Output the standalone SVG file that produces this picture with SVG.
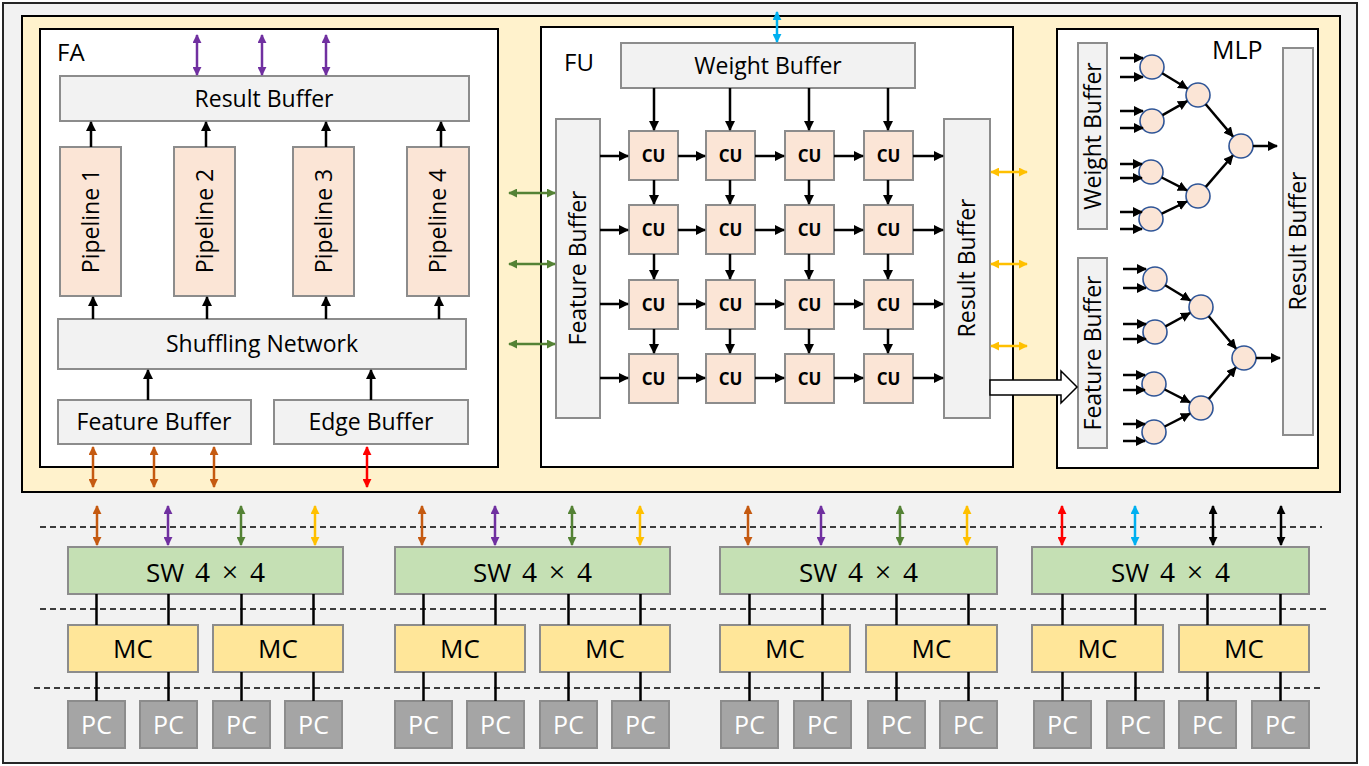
<svg xmlns="http://www.w3.org/2000/svg" width="1369" height="766" viewBox="0 0 1369 766">
<defs>
<style>
.t{font-family:"Open Sans","Liberation Sans",sans-serif;font-size:23px;fill:#000;text-anchor:middle}
.lbl{font-family:"Open Sans","Liberation Sans",sans-serif;font-size:24px;fill:#000}
.buf{fill:#f2f2f2;stroke:#8c8c8c;stroke-width:2}
.pk{fill:#fbe5d6;stroke:#8c8c8c;stroke-width:2}
.cu{font-family:"Open Sans","Liberation Sans",sans-serif;font-size:17px;font-weight:bold;text-anchor:middle}
.sw{fill:#c5e0b4;stroke:#8c8c8c;stroke-width:2}
.swt{font-family:"Open Sans","Liberation Sans",sans-serif;font-size:26px;text-anchor:middle;word-spacing:4px}
.swm{font-family:"Liberation Serif",serif;font-size:30px}
.mc{fill:#ffe699;stroke:#8c8c8c;stroke-width:2}
.mct{font-family:"Open Sans","Liberation Sans",sans-serif;font-size:26px;fill:#000;text-anchor:middle}
.pc{fill:#a5a5a5;stroke:#8c8c8c;stroke-width:2}
.pct{font-family:"Open Sans","Liberation Sans",sans-serif;font-size:25px;fill:#fff;text-anchor:middle}
.a{stroke:#000;stroke-width:2.5;fill:none;marker-end:url(#ak)}
.ln{stroke:#000;stroke-width:2.5}
.dash{stroke:#000;stroke-width:1.6;stroke-dasharray:6 4}
.neu{fill:#fbe5d6;stroke:#2f5597;stroke-width:1.6}
.bo{stroke:#c55a11;stroke-width:2.5;marker-start:url(#mo);marker-end:url(#mo)}
.bp{stroke:#7030a0;stroke-width:2.5;marker-start:url(#mp);marker-end:url(#mp)}
.bg{stroke:#548235;stroke-width:2.5;marker-start:url(#mg);marker-end:url(#mg)}
.by{stroke:#ffc000;stroke-width:2.5;marker-start:url(#my);marker-end:url(#my)}
.br{stroke:#ff0000;stroke-width:2.5;marker-start:url(#mr);marker-end:url(#mr)}
.bc{stroke:#00b0f0;stroke-width:2.5;marker-start:url(#mc);marker-end:url(#mc)}
.bk{stroke:#000;stroke-width:2.5;marker-start:url(#mk);marker-end:url(#mk)}
</style>
<marker id="ak" viewBox="0 0 10 10" refX="9" refY="5" markerWidth="10" markerHeight="10" markerUnits="userSpaceOnUse" orient="auto"><path d="M0,0L10,5L0,10z" fill="#000"/></marker>
<marker id="mo" viewBox="0 0 10 10" refX="9" refY="5" markerWidth="9" markerHeight="9" markerUnits="userSpaceOnUse" orient="auto-start-reverse"><path d="M0,0L10,5L0,10z" fill="#c55a11"/></marker>
<marker id="mp" viewBox="0 0 10 10" refX="9" refY="5" markerWidth="9" markerHeight="9" markerUnits="userSpaceOnUse" orient="auto-start-reverse"><path d="M0,0L10,5L0,10z" fill="#7030a0"/></marker>
<marker id="mg" viewBox="0 0 10 10" refX="9" refY="5" markerWidth="9" markerHeight="9" markerUnits="userSpaceOnUse" orient="auto-start-reverse"><path d="M0,0L10,5L0,10z" fill="#548235"/></marker>
<marker id="my" viewBox="0 0 10 10" refX="9" refY="5" markerWidth="9" markerHeight="9" markerUnits="userSpaceOnUse" orient="auto-start-reverse"><path d="M0,0L10,5L0,10z" fill="#ffc000"/></marker>
<marker id="mr" viewBox="0 0 10 10" refX="9" refY="5" markerWidth="9" markerHeight="9" markerUnits="userSpaceOnUse" orient="auto-start-reverse"><path d="M0,0L10,5L0,10z" fill="#ff0000"/></marker>
<marker id="mc" viewBox="0 0 10 10" refX="9" refY="5" markerWidth="9" markerHeight="9" markerUnits="userSpaceOnUse" orient="auto-start-reverse"><path d="M0,0L10,5L0,10z" fill="#00b0f0"/></marker>
<marker id="mk" viewBox="0 0 10 10" refX="9" refY="5" markerWidth="9" markerHeight="9" markerUnits="userSpaceOnUse" orient="auto-start-reverse"><path d="M0,0L10,5L0,10z" fill="#000"/></marker>
</defs>

<rect id="frame" x="3" y="3" width="1354" height="760" fill="#f2f2f2" stroke="#262626" stroke-width="2"/>
<rect id="panel" x="22" y="16" width="1318" height="476" fill="#fff2cc" stroke="#000" stroke-width="2"/>

<!-- FA -->
<g id="fa">
<rect x="40" y="29" width="458" height="438" fill="#fff" stroke="#000" stroke-width="2"/>
<text class="lbl" x="57" y="61">FA</text>
</g>
<g id="fa-result"><rect class="buf" x="60" y="76" width="409" height="45"/><text class="t" x="264" y="107">Result Buffer</text></g>
<g id="pipe1"><rect class="pk" x="60" y="147" width="61" height="149"/><text class="t" transform="translate(91,221) rotate(-90)" y="8">Pipeline 1</text></g>
<g id="pipe2"><rect class="pk" x="174" y="147" width="61" height="149"/><text class="t" transform="translate(205,221) rotate(-90)" y="8">Pipeline 2</text></g>
<g id="pipe3"><rect class="pk" x="293" y="147" width="61" height="149"/><text class="t" transform="translate(324,221) rotate(-90)" y="8">Pipeline 3</text></g>
<g id="pipe4"><rect class="pk" x="407" y="147" width="62" height="149"/><text class="t" transform="translate(438,221) rotate(-90)" y="8">Pipeline 4</text></g>
<g id="shuffle"><rect class="buf" x="58" y="319" width="408" height="50"/><text class="t" x="262" y="352">Shuffling Network</text></g>
<g id="fa-feature"><rect class="buf" x="58" y="400" width="193" height="44"/><text class="t" x="154" y="430">Feature Buffer</text></g>
<g id="fa-edge"><rect class="buf" x="274" y="400" width="194" height="44"/><text class="t" x="371" y="430">Edge Buffer</text></g>

<!-- FU -->
<g id="fu">
<rect x="541" y="27" width="472" height="440" fill="#fff" stroke="#000" stroke-width="2"/>
<text class="lbl" x="564" y="71">FU</text>
</g>
<g id="fu-weight"><rect class="buf" x="621" y="43" width="294" height="45"/><text class="t" x="768" y="74">Weight Buffer</text></g>
<g id="fu-feature"><rect class="buf" x="556" y="119" width="44" height="299"/><text class="t" transform="translate(578,268) rotate(-90)" y="8">Feature Buffer</text></g>
<g id="fu-result"><rect class="buf" x="944" y="119" width="46" height="299"/><text class="t" transform="translate(967,268) rotate(-90)" y="8">Result Buffer</text></g>
<g id="cu-grid">
<rect class="pk" x="629" y="131" width="49" height="49"/><text class="cu" x="653.5" y="161.5">CU</text>
<rect class="pk" x="706" y="131" width="49" height="49"/><text class="cu" x="730.5" y="161.5">CU</text>
<rect class="pk" x="785" y="131" width="49" height="49"/><text class="cu" x="809.5" y="161.5">CU</text>
<rect class="pk" x="864" y="131" width="49" height="49"/><text class="cu" x="888.5" y="161.5">CU</text>
<rect class="pk" x="629" y="205" width="49" height="49"/><text class="cu" x="653.5" y="235.5">CU</text>
<rect class="pk" x="706" y="205" width="49" height="49"/><text class="cu" x="730.5" y="235.5">CU</text>
<rect class="pk" x="785" y="205" width="49" height="49"/><text class="cu" x="809.5" y="235.5">CU</text>
<rect class="pk" x="864" y="205" width="49" height="49"/><text class="cu" x="888.5" y="235.5">CU</text>
<rect class="pk" x="629" y="280" width="49" height="49"/><text class="cu" x="653.5" y="310.5">CU</text>
<rect class="pk" x="706" y="280" width="49" height="49"/><text class="cu" x="730.5" y="310.5">CU</text>
<rect class="pk" x="785" y="280" width="49" height="49"/><text class="cu" x="809.5" y="310.5">CU</text>
<rect class="pk" x="864" y="280" width="49" height="49"/><text class="cu" x="888.5" y="310.5">CU</text>
<rect class="pk" x="629" y="354" width="49" height="49"/><text class="cu" x="653.5" y="384.5">CU</text>
<rect class="pk" x="706" y="354" width="49" height="49"/><text class="cu" x="730.5" y="384.5">CU</text>
<rect class="pk" x="785" y="354" width="49" height="49"/><text class="cu" x="809.5" y="384.5">CU</text>
<rect class="pk" x="864" y="354" width="49" height="49"/><text class="cu" x="888.5" y="384.5">CU</text>
</g>

<!-- MLP -->
<g id="mlp">
<rect x="1057" y="29" width="261" height="439" fill="#fff" stroke="#000" stroke-width="2"/>
<text class="lbl" x="1212" y="59" style="font-size:25px">MLP</text>
</g>
<g id="mlp-weight"><rect class="buf" x="1078" y="43" width="29" height="186"/><text class="t" transform="translate(1093,136) rotate(-90)" y="8">Weight Buffer</text></g>
<g id="mlp-feature"><rect class="buf" x="1078" y="258" width="29" height="190"/><text class="t" transform="translate(1093,353) rotate(-90)" y="8">Feature Buffer</text></g>
<g id="mlp-result"><rect class="buf" x="1283" y="48" width="30" height="387"/><text class="t" transform="translate(1298,241) rotate(-90)" y="8">Result Buffer</text></g>
<g id="neurons">
<circle class="neu" cx="1152" cy="67" r="12"/><circle class="neu" cx="1152" cy="121" r="12"/><circle class="neu" cx="1151" cy="172" r="12"/><circle class="neu" cx="1151" cy="219" r="12"/>
<circle class="neu" cx="1198" cy="95" r="12"/><circle class="neu" cx="1198" cy="196" r="12"/><circle class="neu" cx="1241" cy="146" r="12"/>
<circle class="neu" cx="1155" cy="279" r="12"/><circle class="neu" cx="1155" cy="332" r="12"/><circle class="neu" cx="1154" cy="384" r="12"/><circle class="neu" cx="1154" cy="432" r="12"/>
<circle class="neu" cx="1201" cy="307" r="12"/><circle class="neu" cx="1201" cy="408" r="12"/><circle class="neu" cx="1244" cy="358" r="12"/>
</g>

<!-- SW / MC / PC -->
<g id="sw1"><rect class="sw" x="68" y="547" width="275" height="47"/><text class="swt" x="205.5" y="582">SW <tspan class="swm">4 × 4</tspan></text></g>
<g id="sw2"><rect class="sw" x="395" y="547" width="275" height="47"/><text class="swt" x="532.5" y="582">SW <tspan class="swm">4 × 4</tspan></text></g>
<g id="sw3"><rect class="sw" x="720" y="547" width="277" height="47"/><text class="swt" x="858.5" y="582">SW <tspan class="swm">4 × 4</tspan></text></g>
<g id="sw4"><rect class="sw" x="1032" y="547" width="277" height="47"/><text class="swt" x="1170.5" y="582">SW <tspan class="swm">4 × 4</tspan></text></g>

<g id="mc1"><rect class="mc" x="68" y="625" width="130" height="47"/><text class="mct" x="133" y="658">MC</text></g>
<g id="mc2"><rect class="mc" x="213" y="625" width="130" height="47"/><text class="mct" x="278" y="658">MC</text></g>
<g id="mc3"><rect class="mc" x="395" y="625" width="130" height="47"/><text class="mct" x="460" y="658">MC</text></g>
<g id="mc4"><rect class="mc" x="540" y="625" width="130" height="47"/><text class="mct" x="605" y="658">MC</text></g>
<g id="mc5"><rect class="mc" x="720" y="625" width="130" height="47"/><text class="mct" x="785" y="658">MC</text></g>
<g id="mc6"><rect class="mc" x="866" y="625" width="131" height="47"/><text class="mct" x="931.5" y="658">MC</text></g>
<g id="mc7"><rect class="mc" x="1032" y="625" width="131" height="47"/><text class="mct" x="1097.5" y="658">MC</text></g>
<g id="mc8"><rect class="mc" x="1179" y="625" width="130" height="47"/><text class="mct" x="1244" y="658">MC</text></g>

<g id="pcs">
<rect class="pc" x="68" y="701" width="57" height="47"/><text class="pct" x="96.5" y="734">PC</text>
<rect class="pc" x="140" y="701" width="57" height="47"/><text class="pct" x="168.5" y="734">PC</text>
<rect class="pc" x="213" y="701" width="57" height="47"/><text class="pct" x="241.5" y="734">PC</text>
<rect class="pc" x="285" y="701" width="57" height="47"/><text class="pct" x="313.5" y="734">PC</text>
<rect class="pc" x="395" y="701" width="57" height="47"/><text class="pct" x="423.5" y="734">PC</text>
<rect class="pc" x="467" y="701" width="57" height="47"/><text class="pct" x="495.5" y="734">PC</text>
<rect class="pc" x="540" y="701" width="57" height="47"/><text class="pct" x="568.5" y="734">PC</text>
<rect class="pc" x="612" y="701" width="57" height="47"/><text class="pct" x="640.5" y="734">PC</text>
<rect class="pc" x="721" y="701" width="57" height="47"/><text class="pct" x="749.5" y="734">PC</text>
<rect class="pc" x="794" y="701" width="57" height="47"/><text class="pct" x="822.5" y="734">PC</text>
<rect class="pc" x="868" y="701" width="57" height="47"/><text class="pct" x="896.5" y="734">PC</text>
<rect class="pc" x="940" y="701" width="57" height="47"/><text class="pct" x="968.5" y="734">PC</text>
<rect class="pc" x="1034" y="701" width="57" height="47"/><text class="pct" x="1062.5" y="734">PC</text>
<rect class="pc" x="1107" y="701" width="57" height="47"/><text class="pct" x="1135.5" y="734">PC</text>
<rect class="pc" x="1179" y="701" width="57" height="47"/><text class="pct" x="1207.5" y="734">PC</text>
<rect class="pc" x="1252" y="701" width="57" height="47"/><text class="pct" x="1280.5" y="734">PC</text>
</g>

<g id="connectors">
<!-- FA -->
<line class="bp" x1="197" y1="35" x2="197" y2="75"/>
<line class="bp" x1="262" y1="35" x2="262" y2="75"/>
<line class="bp" x1="326" y1="35" x2="326" y2="75"/>
<line class="a" x1="91" y1="147" x2="91" y2="122"/>
<line class="a" x1="206" y1="147" x2="206" y2="122"/>
<line class="a" x1="326" y1="147" x2="326" y2="122"/>
<line class="a" x1="441" y1="147" x2="441" y2="122"/>
<line class="a" x1="93" y1="319" x2="93" y2="297"/>
<line class="a" x1="207" y1="319" x2="207" y2="297"/>
<line class="a" x1="326" y1="319" x2="326" y2="297"/>
<line class="a" x1="439" y1="319" x2="439" y2="297"/>
<line class="a" x1="148" y1="400" x2="148" y2="370"/>
<line class="a" x1="371" y1="400" x2="371" y2="370"/>
<line class="bo" x1="93" y1="447" x2="93" y2="487"/>
<line class="bo" x1="154" y1="447" x2="154" y2="487"/>
<line class="bo" x1="214" y1="447" x2="214" y2="487"/>
<line class="br" x1="367" y1="447" x2="367" y2="487"/>
<!-- FA-FU -->
<line class="bg" x1="509" y1="193" x2="555" y2="193"/>
<line class="bg" x1="509" y1="264" x2="555" y2="264"/>
<line class="bg" x1="509" y1="344" x2="555" y2="344"/>
<line class="bc" x1="777" y1="12" x2="777" y2="42"/>
<line class="by" x1="991" y1="172" x2="1027" y2="172"/>
<line class="by" x1="991" y1="264" x2="1027" y2="264"/>
<line class="by" x1="991" y1="346" x2="1027" y2="346"/>
<!-- FU internal -->
<line class="a" x1="654" y1="88" x2="654" y2="130"/>
<line class="a" x1="730" y1="88" x2="730" y2="130"/>
<line class="a" x1="809" y1="88" x2="809" y2="130"/>
<line class="a" x1="888" y1="88" x2="888" y2="130"/>
<line class="a" x1="654" y1="180" x2="654" y2="204"/>
<line class="a" x1="730" y1="180" x2="730" y2="204"/>
<line class="a" x1="809" y1="180" x2="809" y2="204"/>
<line class="a" x1="888" y1="180" x2="888" y2="204"/>
<line class="a" x1="654" y1="254" x2="654" y2="279"/>
<line class="a" x1="730" y1="254" x2="730" y2="279"/>
<line class="a" x1="809" y1="254" x2="809" y2="279"/>
<line class="a" x1="888" y1="254" x2="888" y2="279"/>
<line class="a" x1="654" y1="329" x2="654" y2="353"/>
<line class="a" x1="730" y1="329" x2="730" y2="353"/>
<line class="a" x1="809" y1="329" x2="809" y2="353"/>
<line class="a" x1="888" y1="329" x2="888" y2="353"/>
<line class="a" x1="600" y1="156" x2="628" y2="156"/>
<line class="a" x1="678" y1="156" x2="705" y2="156"/>
<line class="a" x1="755" y1="156" x2="784" y2="156"/>
<line class="a" x1="834" y1="156" x2="863" y2="156"/>
<line class="a" x1="913" y1="156" x2="943" y2="156"/>
<line class="a" x1="600" y1="230" x2="628" y2="230"/>
<line class="a" x1="678" y1="230" x2="705" y2="230"/>
<line class="a" x1="755" y1="230" x2="784" y2="230"/>
<line class="a" x1="834" y1="230" x2="863" y2="230"/>
<line class="a" x1="913" y1="230" x2="943" y2="230"/>
<line class="a" x1="600" y1="304" x2="628" y2="304"/>
<line class="a" x1="678" y1="304" x2="705" y2="304"/>
<line class="a" x1="755" y1="304" x2="784" y2="304"/>
<line class="a" x1="834" y1="304" x2="863" y2="304"/>
<line class="a" x1="913" y1="304" x2="943" y2="304"/>
<line class="a" x1="600" y1="378" x2="628" y2="378"/>
<line class="a" x1="678" y1="378" x2="705" y2="378"/>
<line class="a" x1="755" y1="378" x2="784" y2="378"/>
<line class="a" x1="834" y1="378" x2="863" y2="378"/>
<line class="a" x1="913" y1="378" x2="943" y2="378"/>
<!-- block arrow to MLP -->
<polygon points="990,380 1061,380 1061,371 1077,387 1061,403 1061,395 990,395" fill="#fff" stroke="#000" stroke-width="1.5"/>
<!-- MLP inputs -->
<line class="a" x1="1120" y1="58" x2="1143" y2="58"/>
<line class="a" x1="1120" y1="77" x2="1143" y2="77"/>
<line class="a" x1="1120" y1="111" x2="1143" y2="111"/>
<line class="a" x1="1120" y1="128" x2="1143" y2="128"/>
<line class="a" x1="1120" y1="164" x2="1142" y2="164"/>
<line class="a" x1="1120" y1="178" x2="1142" y2="178"/>
<line class="a" x1="1120" y1="212" x2="1142" y2="212"/>
<line class="a" x1="1120" y1="229" x2="1142" y2="229"/>
<line class="a" x1="1123" y1="269" x2="1146" y2="269"/>
<line class="a" x1="1123" y1="288" x2="1146" y2="288"/>
<line class="a" x1="1123" y1="324" x2="1146" y2="324"/>
<line class="a" x1="1123" y1="339" x2="1146" y2="339"/>
<line class="a" x1="1123" y1="375" x2="1145" y2="375"/>
<line class="a" x1="1123" y1="390" x2="1145" y2="390"/>
<line class="a" x1="1123" y1="424" x2="1145" y2="424"/>
<line class="a" x1="1123" y1="441" x2="1145" y2="441"/>
<!-- MLP internal -->
<line class="a" x1="1162.2" y1="73.2" x2="1187.3" y2="88.5"/>
<line class="a" x1="1162.5" y1="115.1" x2="1187.1" y2="101.2"/>
<line class="a" x1="1161.7" y1="177.5" x2="1186.9" y2="190.3"/>
<line class="a" x1="1161.8" y1="213.7" x2="1186.8" y2="201.5"/>
<line class="a" x1="1205.7" y1="104.2" x2="1232.9" y2="136.4"/>
<line class="a" x1="1205.8" y1="186.9" x2="1232.8" y2="155.5"/>
<line class="a" x1="1165.2" y1="285.2" x2="1190.3" y2="300.5"/>
<line class="a" x1="1165.5" y1="326.3" x2="1190.0" y2="313.0"/>
<line class="a" x1="1164.7" y1="389.5" x2="1189.9" y2="402.3"/>
<line class="a" x1="1164.7" y1="426.5" x2="1189.9" y2="413.7"/>
<line class="a" x1="1208.7" y1="316.2" x2="1235.9" y2="348.4"/>
<line class="a" x1="1208.8" y1="398.9" x2="1235.8" y2="367.5"/>
<line class="a" x1="1253" y1="146" x2="1277" y2="146"/>
<line class="a" x1="1256" y1="358" x2="1280" y2="358"/>
<!-- dashed levels -->
<line class="dash" x1="40" y1="527" x2="1322" y2="527"/>
<line class="dash" x1="40" y1="609" x2="1328" y2="609"/>
<line class="dash" x1="34" y1="688" x2="1322" y2="688"/>
<!-- bottom colored -->
<line class="bo" x1="97" y1="506" x2="97" y2="545"/>
<line class="bp" x1="168" y1="506" x2="168" y2="545"/>
<line class="bg" x1="241" y1="506" x2="241" y2="545"/>
<line class="by" x1="315" y1="506" x2="315" y2="545"/>
<line class="bo" x1="422" y1="506" x2="422" y2="545"/>
<line class="bp" x1="495" y1="506" x2="495" y2="545"/>
<line class="bg" x1="572" y1="506" x2="572" y2="545"/>
<line class="by" x1="640" y1="506" x2="640" y2="545"/>
<line class="bo" x1="748" y1="506" x2="748" y2="545"/>
<line class="bp" x1="821" y1="506" x2="821" y2="545"/>
<line class="bg" x1="900" y1="506" x2="900" y2="545"/>
<line class="by" x1="967" y1="506" x2="967" y2="545"/>
<line class="br" x1="1062" y1="506" x2="1062" y2="545"/>
<line class="bc" x1="1135" y1="506" x2="1135" y2="545"/>
<line class="bk" x1="1213" y1="506" x2="1213" y2="545"/>
<line class="bk" x1="1281" y1="506" x2="1281" y2="545"/>
<!-- SW-MC-PC links -->
<path class="ln" d="M96.5,594V625M168.5,594V625M241.5,594V625M313.5,594V625M423.5,594V625M495.5,594V625M568.5,594V625M640.5,594V625M749.5,594V625M822.5,594V625M896.5,594V625M968.5,594V625M1062.5,594V625M1135.5,594V625M1207.5,594V625M1280.5,594V625"/>
<path class="ln" d="M96.5,672V701M168.5,672V701M241.5,672V701M313.5,672V701M423.5,672V701M495.5,672V701M568.5,672V701M640.5,672V701M749.5,672V701M822.5,672V701M896.5,672V701M968.5,672V701M1062.5,672V701M1135.5,672V701M1207.5,672V701M1280.5,672V701"/>
</g>
</svg>
